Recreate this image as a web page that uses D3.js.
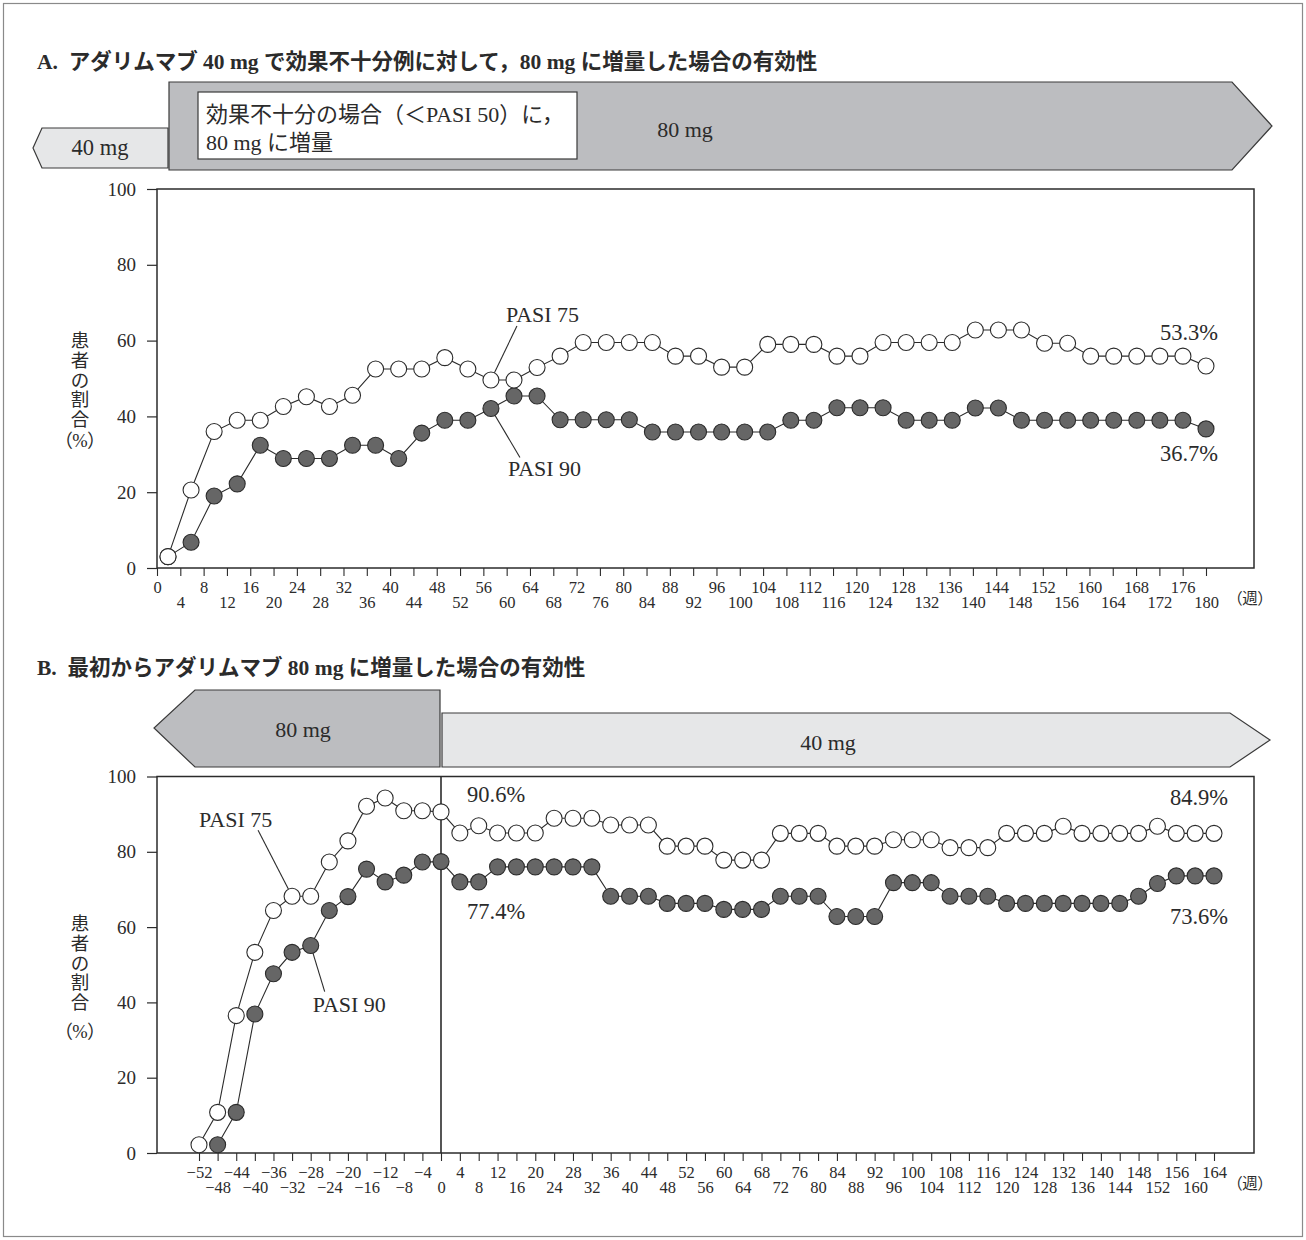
<!DOCTYPE html>
<html>
<head>
<meta charset="utf-8">
<script src="https://cdn.jsdelivr.net/npm/d3@7"></script>
<style>
  body { margin: 0; background: #fff; }
  svg text { font-family: "Liberation Serif", "Noto Sans CJK JP", serif; fill: #2b2b2b; }
  .jp { font-family: "Noto Sans CJK JP", sans-serif; font-feature-settings: "palt"; }
</style>
</head>
<body>
<svg id="chart" width="1306" height="1240"></svg>
<script>
// ---- Panel A: 40 mg non-responders escalated to 80 mg (weeks after escalation)
const weeksA = [0,4,8,12,16,20,24,28,32,36,40,44,48,52,56,60,64,68,72,76,80,84,88,92,
  96,100,104,108,112,116,120,124,128,132,136,140,144,148,152,156,160,164,168,172,176,180];
const pasi75A = [3.0,20.6,36.0,39.0,39.0,42.6,45.2,42.6,45.6,52.5,52.5,52.5,55.5,52.5,49.6,49.6,
  52.9,55.9,59.5,59.5,59.5,59.5,55.9,55.9,53.0,53.0,59.0,59.0,59.0,55.9,55.9,59.5,59.5,59.5,59.5,
  62.8,62.8,62.8,59.3,59.3,55.9,55.9,55.9,55.9,55.9,53.3];
const pasi90A = [3.0,6.8,19.0,22.2,32.4,28.9,28.9,28.9,32.4,32.4,28.9,35.6,39.0,39.0,42.1,45.4,
  45.4,39.1,39.1,39.1,39.1,35.9,35.9,35.9,35.9,35.9,35.9,39.0,39.0,42.3,42.3,42.3,39.0,39.0,39.0,
  42.2,42.2,39.0,39.0,39.0,39.0,39.0,39.0,39.0,39.0,36.7];
const tickWeeksA = weeksA;

// ---- Panel B: 80 mg from the start, then 40 mg from week 0
const weeksB75 = [-52,-48,-44,-40,-36,-32,-28,-24,-20,-16,-12,-8,-4,0,4,8,12,16,20,24,28,32,36,40,
  44,48,52,56,60,64,68,72,76,80,84,88,92,96,100,104,108,112,116,120,124,128,132,136,140,144,148,
  152,156,160,164];
const pasi75B = [2.2,10.8,36.5,53.3,64.4,68.2,68.2,77.3,82.9,92.1,94.3,90.9,90.9,90.6,85.0,86.9,
  85.0,85.0,85.0,88.9,88.9,88.9,87.1,87.1,87.1,81.5,81.5,81.5,77.8,77.8,77.8,84.9,84.9,84.9,81.5,
  81.5,81.5,83.2,83.2,83.2,81.1,81.1,81.1,84.9,84.9,84.9,86.8,84.9,84.9,84.9,84.9,86.8,84.9,84.9,84.9];
const weeksB90 = [-48,-44,-40,-36,-32,-28,-24,-20,-16,-12,-8,-4,0,4,8,12,16,20,24,28,32,36,40,
  44,48,52,56,60,64,68,72,76,80,84,88,92,96,100,104,108,112,116,120,124,128,132,136,140,144,148,
  152,156,160,164];
const pasi90B = [2.2,10.8,36.9,47.6,53.3,55.1,64.4,68.1,75.4,72.0,73.8,77.3,77.4,72.0,72.0,76.0,
  76.0,76.0,76.0,76.0,76.0,68.2,68.2,68.2,66.3,66.3,66.3,64.7,64.7,64.7,68.2,68.2,68.2,62.8,62.8,
  62.8,71.8,71.8,71.8,68.2,68.2,68.2,66.3,66.3,66.3,66.3,66.3,66.3,66.3,68.2,71.6,73.6,73.6,73.6];
const tickWeeksB = weeksB75;

const yTicks = [0, 20, 40, 60, 80, 100];
const yLabelChars = ["患", "者", "の", "割", "合"];

const svg = d3.select("#chart");
const INK = "#2b2b2b";
const DARK_BAND = "#bcbdc0", LIGHT_BAND = "#e6e7e8", DOT_FILL = "#666666";
const R = 8;

// outer border
svg.append("rect").attr("x", 3.5).attr("y", 3.5).attr("width", 1299).attr("height", 1233)
  .attr("fill", "none").attr("stroke", "#8a8a8a").attr("stroke-width", 1.2);

function band(points, fill) {
  svg.append("polygon").attr("points", points.map(p => p.join(",")).join(" "))
    .attr("fill", fill).attr("stroke", "#3a3a3a").attr("stroke-width", 1.2);
}

function title(txt, y) {
  svg.append("text").attr("x", 37).attr("y", y).attr("font-size", 21.5).attr("font-weight", "bold")
    .style("white-space", "pre").text(txt);
}

function panel(o) {
  const g = svg.append("g");
  const y = d3.scaleLinear().domain([0, 100]).range([o.bottom, o.top]);

  // y axis ticks and labels
  const ya = g.append("g").attr("transform", `translate(${o.left},0)`)
    .call(d3.axisLeft(y).tickValues(yTicks).tickSize(10).tickPadding(11));
  ya.select(".domain").remove();
  ya.selectAll("line").attr("stroke", INK).attr("stroke-width", 1.2);
  ya.selectAll("text").attr("font-size", 19).attr("fill", INK)
    .style("font-family", '"Liberation Serif", serif');

  // x axis: alternating label rows
  const xa = g.append("g").attr("transform", `translate(0,${o.bottom})`)
    .call(d3.axisBottom(o.xTick).tickValues(o.ticks).tickSize(8).tickFormat(d3.format("d")));
  xa.select(".domain").remove();
  xa.selectAll("line").attr("stroke", INK).attr("stroke-width", 1.1);
  xa.selectAll("text").attr("dy", null).attr("font-size", 16.5).attr("fill", INK)
    .style("font-family", '"Liberation Serif", serif')
    .attr("y", (d, i) => i % 2 ? 40 : 25);

  // plot frame
  g.append("rect").attr("x", o.left).attr("y", o.top)
    .attr("width", o.right - o.left).attr("height", o.bottom - o.top)
    .attr("fill", "none").attr("stroke", INK).attr("stroke-width", 1.5);

  // unit label
  g.append("text").attr("class", "jp").attr("x", 1250).attr("y", o.bottom + 36)
    .attr("text-anchor", "middle").attr("font-size", 15.5).attr("fill", INK).text("（週）");

  // y axis title, stacked vertically
  const yl = g.append("g").attr("class", "jp");
  yl.selectAll("text.ch").data(yLabelChars).join("text").attr("class", "ch")
    .attr("x", 80).attr("y", (d, i) => o.yLabelTop + i * 19.8)
    .attr("text-anchor", "middle").attr("dominant-baseline", "central")
    .attr("font-size", 18.5).attr("fill", INK).text(d => d);
  yl.append("text").attr("x", 80).attr("y", o.yLabelPct)
    .attr("text-anchor", "middle").attr("dominant-baseline", "central")
    .attr("font-size", 18.5).attr("fill", INK).text("（%）");

  return { g, y };
}

function series(g, x, y, weeks, values) {
  const pts = weeks.map((w, i) => ({ w, v: values[i] }));
  g.append("path").datum(pts)
    .attr("d", d3.line().x(d => x(d.w)).y(d => y(d.v)))
    .attr("fill", "none").attr("stroke", INK).attr("stroke-width", 1.1);
  return pts;
}

function dots(g, x, y, pts, filled) {
  g.append("g").selectAll("circle").data(pts).join("circle")
    .attr("cx", d => x(d.w)).attr("cy", d => y(d.v)).attr("r", R)
    .attr("fill", filled ? DOT_FILL : "#fff")
    .attr("stroke", INK).attr("stroke-width", 1.1);
}

function label(g, txt, x, y, anchor, size) {
  g.append("text").attr("x", x).attr("y", y).attr("text-anchor", anchor || "start")
    .attr("font-size", size || 22).attr("fill", INK).text(txt);
}

function leader(g, x1, y1, x2, y2) {
  g.append("line").attr("x1", x1).attr("y1", y1).attr("x2", x2).attr("y2", y2)
    .attr("stroke", INK).attr("stroke-width", 1.1);
}

// ================= Panel A =================
title("A.  アダリムマブ 40 mg で効果不十分例に対して，80 mg に増量した場合の有効性", 69);

band([[42, 128], [168, 128], [168, 168], [42, 168], [33, 148]], LIGHT_BAND);
band([[169, 82], [1232, 82], [1272, 126], [1232, 170], [169, 170]], DARK_BAND);
svg.append("rect").attr("x", 198).attr("y", 92).attr("width", 379).attr("height", 67)
  .attr("fill", "#fff").attr("stroke", "#3a3a3a").attr("stroke-width", 1.2);
label(svg, "40 mg", 100, 155, "middle", 22.5);
label(svg, "80 mg", 685, 137, "middle", 22);
label(svg, "効果不十分の場合（＜PASI 50）に，", 206, 122, "start", 22);
label(svg, "80 mg に増量", 206, 150, "start", 22);

const oA = { left: 157, right: 1254, top: 189, bottom: 568,
  xTick: d3.scaleLinear().domain([0, 180]).range([157, 1206]),
  ticks: tickWeeksA, yLabelTop: 341, yLabelPct: 441 };
const pA = panel(oA);
// markers are inset from the y axis so the week-0 circle clears it
const xDotA = d3.scaleLinear().domain([0, 180]).range([168, 1206]);
const a90 = series(pA.g, xDotA, pA.y, weeksA, pasi90A);
const a75 = series(pA.g, xDotA, pA.y, weeksA, pasi75A);
{
  const p75 = a75[14], p90 = a90[14];
  const px = xDotA(p75.w), py75 = pA.y(p75.v), py90 = pA.y(p90.v);
  leader(pA.g, px + 26, py75 - 54, px, py75);
  leader(pA.g, px + 29, py90 + 49, px, py90);
  label(pA.g, "PASI 75", px + 15, py75 - 58, "start", 22);
  label(pA.g, "PASI 90", px + 17, py90 + 68, "start", 22);
}
dots(pA.g, xDotA, pA.y, a90, true);
dots(pA.g, xDotA, pA.y, a75, false);
{
  const l75 = a75[a75.length - 1], l90 = a90[a90.length - 1];
  label(pA.g, d3.format(".1f")(l75.v) + "%", xDotA(l75.w) + 12, pA.y(l75.v) - 26, "end", 22.5);
  label(pA.g, d3.format(".1f")(l90.v) + "%", xDotA(l90.w) + 12, pA.y(l90.v) + 32, "end", 22.5);
}

// ================= Panel B =================
title("B.  最初からアダリムマブ 80 mg に増量した場合の有効性", 675);

const xB = d3.scaleLinear().domain([-52, 0, 164]).range([199, 441, 1214]);
band([[195, 690], [xB(0) - 1, 690], [xB(0) - 1, 767], [195, 767], [154, 728]], DARK_BAND);
band([[xB(0) + 1, 713], [1230, 713], [1270, 740], [1230, 767], [xB(0) + 1, 767]], LIGHT_BAND);
label(svg, "80 mg", 303, 737, "middle", 22);
label(svg, "40 mg", 828, 750, "middle", 22);

const oB = { left: 157, right: 1254, top: 776.5, bottom: 1153,
  xTick: xB, ticks: tickWeeksB, yLabelTop: 924, yLabelPct: 1032 };
const pB = panel(oB);
// dose switch at week 0
pB.g.append("line").attr("x1", xB(0)).attr("x2", xB(0)).attr("y1", oB.top).attr("y2", oB.bottom)
  .attr("stroke", INK).attr("stroke-width", 1.6);

const b90 = series(pB.g, xB, pB.y, weeksB90, pasi90B);
const b75 = series(pB.g, xB, pB.y, weeksB75, pasi75B);
{
  const q75 = b75[5], q90 = b90[5];
  leader(pB.g, xB(q75.w) - 34, pB.y(q75.v) - 66, xB(q75.w), pB.y(q75.v));
  leader(pB.g, xB(q90.w) + 14, pB.y(q90.v) + 46, xB(q90.w), pB.y(q90.v));
  label(pB.g, "PASI 75", xB(q75.w) - 93, pB.y(q75.v) - 69, "start", 22);
  label(pB.g, "PASI 90", xB(q90.w) + 2, pB.y(q90.v) + 66, "start", 22);
}
dots(pB.g, xB, pB.y, b90, true);
dots(pB.g, xB, pB.y, b75, false);
{
  const z75 = b75[weeksB75.indexOf(0)], z90 = b90[weeksB90.indexOf(0)];
  label(pB.g, d3.format(".1f")(z75.v) + "%", xB(0) + 26, pB.y(z75.v) - 10, "start", 22.5);
  label(pB.g, d3.format(".1f")(z90.v) + "%", xB(0) + 26, pB.y(z90.v) + 57, "start", 22.5);
  const e75 = b75[b75.length - 1], e90 = b90[b90.length - 1];
  label(pB.g, d3.format(".1f")(e75.v) + "%", xB(e75.w) + 14, pB.y(e75.v) - 28, "end", 22.5);
  label(pB.g, d3.format(".1f")(e90.v) + "%", xB(e90.w) + 14, pB.y(e90.v) + 48, "end", 22.5);
}
</script>
</body>
</html>
